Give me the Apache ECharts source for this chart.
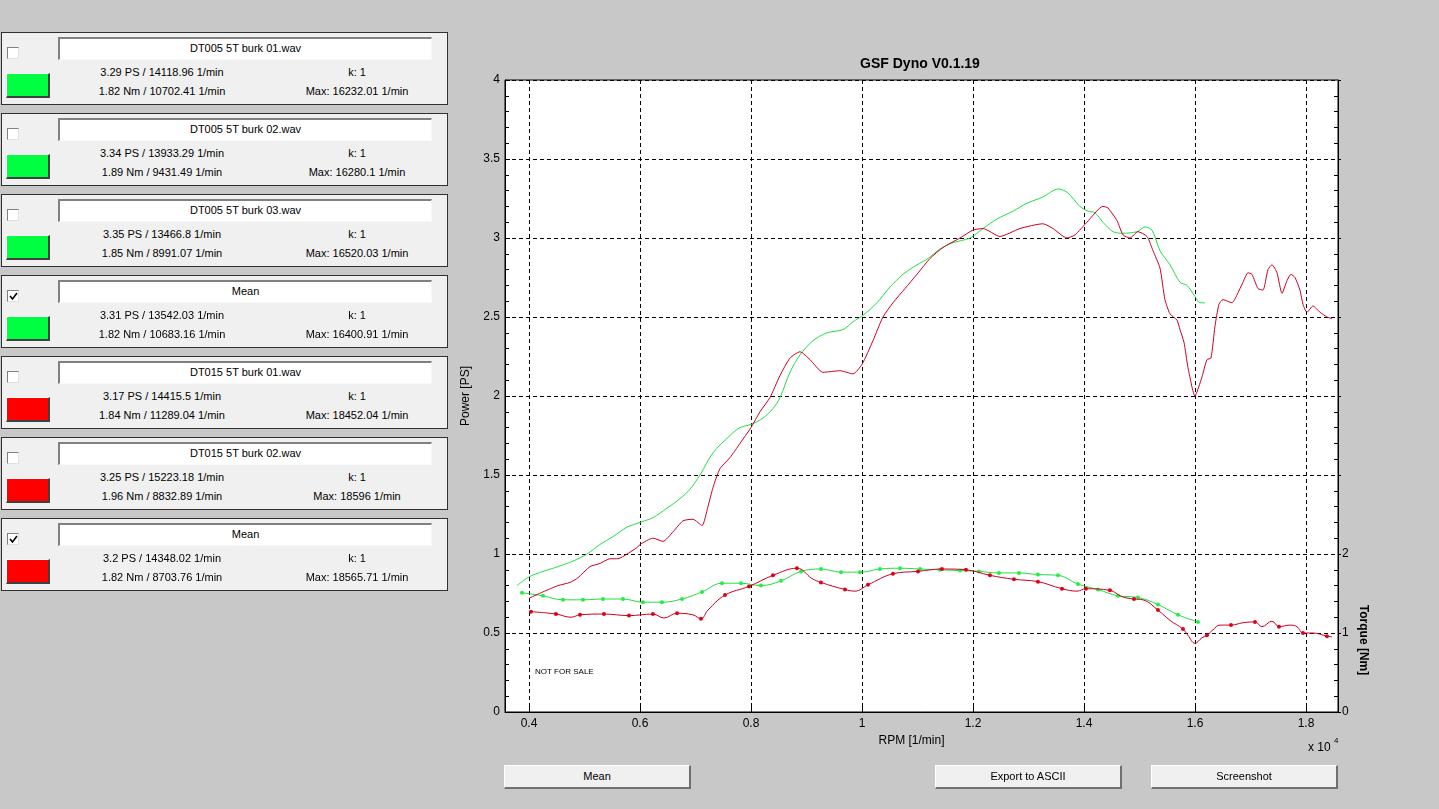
<!DOCTYPE html>
<html><head><meta charset="utf-8">
<script src="https://cdn.jsdelivr.net/npm/echarts@6/dist/echarts.min.js"></script>
<style>
html,body{margin:0;padding:0;background:#c8c8c8;width:1439px;height:809px;overflow:hidden;font-family:"Liberation Sans",Arial,sans-serif;}
*{box-sizing:border-box;}
#chart{position:absolute;left:0;top:0;width:1439px;height:809px;z-index:1;}
.panel{position:absolute;left:1px;width:447px;height:73px;background:#f0f0f0;border:1px solid #303030;z-index:2;}
.cb{position:absolute;left:5px;top:14px;width:12px;height:12px;background:#fff;border:1px solid #808080;border-right-color:#e0e0e0;border-bottom-color:#e0e0e0;}
.cb svg{position:absolute;left:1px;top:1px;}
.tb{position:absolute;left:56px;top:4px;width:374px;height:23px;background:#fff;border:1px solid #f8f8f8;border-top:2px solid #808080;border-left:2px solid #808080;font-size:11px;line-height:19px;text-align:center;color:#000;}
.sw{position:absolute;left:4px;top:40px;width:44px;height:25px;border:1px solid #fff;border-right:2px solid #404040;border-bottom:2px solid #404040;}
.tx{position:absolute;width:220px;font-size:11px;line-height:14px;text-align:center;color:#000;white-space:nowrap;}
.btn{position:absolute;top:765px;width:187px;height:24px;background:#f0f0f0;border:1px solid #fff;border-right:2px solid #707070;border-bottom:2px solid #707070;font-size:11px;line-height:21px;text-align:center;z-index:2;color:#000;}
</style></head>
<body>
<div id="chart"></div>
<div id="panels"></div>
<div class="btn" style="left:504px">Mean</div>
<div class="btn" style="left:935px">Export to ASCII</div>
<div class="btn" style="left:1151px">Screenshot</div>
<script>
// ---------- legend panel data ----------
const fileNames = ['DT005 5T burk 01.wav','DT005 5T burk 02.wav','DT005 5T burk 03.wav','Mean','DT015 5T burk 01.wav','DT015 5T burk 02.wav','Mean'];
const powerLines = ['3.29 PS / 14118.96 1/min','3.34 PS / 13933.29 1/min','3.35 PS / 13466.8 1/min','3.31 PS / 13542.03 1/min','3.17 PS / 14415.5 1/min','3.25 PS / 15223.18 1/min','3.2 PS / 14348.02 1/min'];
const torqueLines = ['1.82 Nm / 10702.41 1/min','1.89 Nm / 9431.49 1/min','1.85 Nm / 8991.07 1/min','1.82 Nm / 10683.16 1/min','1.84 Nm / 11289.04 1/min','1.96 Nm / 8832.89 1/min','1.82 Nm / 8703.76 1/min'];
const kLines = ['k: 1','k: 1','k: 1','k: 1','k: 1','k: 1','k: 1'];
const maxLines = ['Max: 16232.01 1/min','Max: 16280.1 1/min','Max: 16520.03 1/min','Max: 16400.91 1/min','Max: 18452.04 1/min','Max: 18596 1/min','Max: 18565.71 1/min'];
const checkedFlags = [false,false,false,true,false,false,true];
const swatchColors = ['#00ff40','#00ff40','#00ff40','#00ff40','#ff0000','#ff0000','#ff0000'];

// ---------- chart data ----------
const xTickLabels = ['0.4','0.6','0.8','1','1.2','1.4','1.6','1.8'];
const greenPowerRpm = [3784,4000,4252,4523,4793,5045,5279,5514,5766,6000,6234,6486,6721,6901,7081,7315,7622,7802,8000,8216,8396,8523,8703,8883,9117,9369,9658,9838,10018,10270,10505,10739,10991,11189,11405,11640,11946,12180,12432,12721,12973,13261,13532,13694,13928,14072,14198,14342,14523,14703,14955,15099,15225,15369,15550,15730,15856,16000,16090,16180];
const greenPowerPS = [0.80,0.855,0.89,0.92,0.955,1.00,1.06,1.11,1.17,1.20,1.23,1.29,1.35,1.41,1.50,1.64,1.75,1.80,1.82,1.86,1.92,1.99,2.15,2.26,2.35,2.40,2.42,2.47,2.51,2.59,2.69,2.77,2.83,2.87,2.93,2.97,3.00,3.06,3.12,3.17,3.22,3.26,3.31,3.29,3.20,3.17,3.16,3.10,3.04,3.03,3.04,3.07,3.05,2.92,2.83,2.72,2.70,2.63,2.59,2.59];

const redPowerRpm = [4000,4252,4523,4739,4883,5099,5279,5459,5604,5766,5946,6000,6234,6414,6595,6775,6955,7117,7225,7315,7441,7622,7802,8000,8162,8342,8523,8703,8883,9063,9297,9604,9838,10000,10198,10378,10559,10775,10991,11225,11459,11766,12000,12180,12486,12847,13261,13441,13694,13838,14054,14342,14432,14595,14703,14829,14973,15135,15243,15369,15459,15550,15676,15730,15802,15874,16000,16126,16216,16288,16360,16432,16505,16667,16757,16865,16955,17027,17135,17225,17315,17387,17477,17568,17658,17730,17802,17892,17946,18018,18126,18252,18378,18468];
const redPowerPS = [0.72,0.76,0.80,0.82,0.85,0.92,0.94,0.97,0.97,1.00,1.04,1.06,1.10,1.08,1.14,1.21,1.22,1.18,1.30,1.42,1.54,1.61,1.70,1.80,1.90,1.99,2.13,2.24,2.28,2.23,2.15,2.16,2.14,2.20,2.35,2.50,2.59,2.68,2.77,2.87,2.94,3.00,3.05,3.06,3.01,3.06,3.09,3.06,3.00,3.02,3.10,3.20,3.19,3.11,3.02,3.00,3.04,3.01,2.92,2.81,2.61,2.52,2.48,2.42,2.34,2.18,2.00,2.12,2.23,2.24,2.44,2.58,2.61,2.59,2.64,2.72,2.78,2.77,2.68,2.67,2.80,2.83,2.78,2.65,2.73,2.77,2.75,2.67,2.58,2.53,2.57,2.53,2.50,2.49];

const greenTorqueRpm = [3874,4252,4613,4973,5333,5694,6054,6396,6757,7117,7477,7820,8180,8541,8901,9261,9622,9964,10324,10685,11045,11405,11766,12108,12468,12829,13171,13532,13892,14252,14613,14973,15333,15694,16054];
const greenTorqueNm = [1.51,1.47,1.42,1.42,1.43,1.43,1.39,1.39,1.43,1.52,1.63,1.63,1.60,1.66,1.78,1.81,1.77,1.77,1.81,1.82,1.81,1.80,1.79,1.78,1.76,1.76,1.74,1.73,1.62,1.55,1.47,1.45,1.36,1.23,1.14];

const redTorqueRpm = [4036,4486,4757,4919,5351,5802,6234,6432,6667,6955,7099,7225,7532,7964,8396,8829,9099,9261,9694,9874,10108,10559,11009,11441,11874,12306,12739,13171,13604,13874,14036,14468,14685,14901,15063,15333,15550,15784,15874,16000,16126,16216,16324,16450,16649,16865,17081,17207,17387,17514,17712,17838,17946,18126,18378,18468];
const redTorqueNm = [1.27,1.24,1.20,1.23,1.24,1.22,1.24,1.19,1.25,1.23,1.18,1.29,1.48,1.59,1.73,1.82,1.69,1.64,1.55,1.53,1.61,1.75,1.78,1.81,1.80,1.73,1.68,1.65,1.56,1.53,1.56,1.54,1.46,1.43,1.42,1.29,1.16,1.05,0.97,0.87,0.94,0.97,1.04,1.10,1.10,1.13,1.14,1.08,1.15,1.08,1.10,1.08,1.00,1.00,0.96,0.95];
// indices of red torque points that are measured samples (drawn with a dot)
const redTorqueSampleIdx = [0,1,3,4,5,6,8,10,12,13,14,15,17,18,20,21,22,23,24,25,26,27,28,30,31,33,35,37,41,44,46,49,52,54];

// ---------- panels ----------
const panelsEl = document.getElementById('panels');
fileNames.forEach((name, i) => {
  const p = document.createElement('div');
  p.className = 'panel';
  p.style.top = (32 + 81 * i) + 'px';
  const check = checkedFlags[i] ? '<svg width="9" height="9"><polyline points="1,4 3.5,7 8,1" fill="none" stroke="#000" stroke-width="1.6"/></svg>' : '';
  p.innerHTML =
    '<div class="cb">' + check + '</div>' +
    '<div class="tb">' + name + '</div>' +
    '<div class="sw" style="background:' + swatchColors[i] + '"></div>' +
    '<div class="tx" style="left:50px;top:32px">' + powerLines[i] + '</div>' +
    '<div class="tx" style="left:50px;top:51px">' + torqueLines[i] + '</div>' +
    '<div class="tx" style="left:245px;top:32px">' + kLines[i] + '</div>' +
    '<div class="tx" style="left:245px;top:51px">' + maxLines[i] + '</div>';
  panelsEl.appendChild(p);
});

// ---------- chart ----------
const zip = (a, b) => a.map((v, i) => [v, b[i]]);
const sampleSet = new Set(redTorqueSampleIdx);
const redTorqueData = redTorqueRpm.map((v, i) => ({ value: [v, redTorqueNm[i]], symbol: sampleSet.has(i) ? 'circle' : 'none' }));

const FONT = '"Liberation Sans", Arial, sans-serif';
const chart = echarts.init(document.getElementById('chart'));
chart.setOption({
  animation: false,
  backgroundColor: 'transparent',
  textStyle: { fontFamily: FONT },
  grid: { left: 505, top: 80, width: 833, height: 632, show: true, backgroundColor: '#ffffff', borderColor: '#000', borderWidth: 1, containLabel: false },
  xAxis: {
    type: 'value', min: 3568, max: 18577, splitNumber: 7, minInterval: 2000, maxInterval: 2000,
    name: 'RPM [1/min]', nameLocation: 'middle', nameGap: 23,
    nameTextStyle: { color: '#000', fontSize: 12, fontFamily: FONT, padding: [0, 20, 0, 0] },
    axisLine: { show: true, onZero: false, lineStyle: { color: '#000', width: 1 } },
    axisTick: { show: true, inside: true, length: 5, lineStyle: { color: '#000' } },
    axisLabel: {
      color: '#000', fontSize: 12, margin: 6, fontFamily: FONT, showMinLabel: false, showMaxLabel: false,
      formatter: v => { const i = Math.round((v - 4000) / 2000); return (Math.abs(v - (4000 + i * 2000)) < 1 && i >= 0 && i < xTickLabels.length) ? xTickLabels[i] : ''; }
    },
    splitLine: { show: true, lineStyle: { color: '#000', type: [4, 3], width: 1 } }
  },
  yAxis: [{
    type: 'value', min: 0, max: 4, interval: 0.5, position: 'left',
    name: 'Power [PS]', nameLocation: 'middle', nameGap: 33,
    nameTextStyle: { color: '#000', fontSize: 12, fontFamily: FONT },
    axisLine: { show: true, lineStyle: { color: '#000', width: 1 } },
    axisTick: { show: true, inside: true, length: 5, lineStyle: { color: '#000' } },
    minorTick: { show: true, splitNumber: 5, length: 4, lineStyle: { color: '#000' } },
    axisLabel: { color: '#000', fontSize: 12, margin: 5, fontFamily: FONT },
    splitLine: { show: true, lineStyle: { color: '#000', type: [4, 3], width: 1 } }
  }, {
    type: 'value', min: 0, max: 8, interval: 1, position: 'right',
    axisLine: { show: true, lineStyle: { color: '#000', width: 1 } },
    axisTick: { show: true, inside: false, length: 3, lineStyle: { color: '#000' } },
    minorTick: { show: true, splitNumber: 5, length: -4, lineStyle: { color: '#000' } },
    axisLabel: { color: '#000', fontSize: 12, margin: 4, fontFamily: FONT, formatter: v => (v <= 2 ? String(v) : '') },
    splitLine: { show: false }
  }],
  graphic: [
    { type: 'text', style: { text: 'GSF Dyno V0.1.19', x: 920, y: 64, align: 'center', verticalAlign: 'middle', font: 'bold 14px ' + FONT, fill: '#000' } },
    { type: 'text', style: { text: 'NOT FOR SALE', x: 535, y: 672, verticalAlign: 'middle', font: '8px ' + FONT, fill: '#000' } },
    { type: 'text', x: 1363, y: 640, rotation: -Math.PI / 2, style: { text: 'Torque [Nm]', x: 0, y: 0, align: 'center', verticalAlign: 'middle', font: 'bold 12px ' + FONT, fill: '#000' } },
    { type: 'text', style: { text: 'x 10', x: 1308, y: 748, verticalAlign: 'middle', font: '12px ' + FONT, fill: '#000' } },
    { type: 'text', style: { text: '4', x: 1334, y: 741, verticalAlign: 'middle', font: '8px ' + FONT, fill: '#000' } }
  ],
  series: [
    { name: 'Mean DT005 power', type: 'line', yAxisIndex: 0, data: zip(greenPowerRpm, greenPowerPS), showSymbol: false, symbol: 'none', smooth: 0.3, lineStyle: { color: '#22dd44', width: 1 }, itemStyle: { color: '#22dd44' }, z: 3 },
    { name: 'Mean DT015 power', type: 'line', yAxisIndex: 0, data: zip(redPowerRpm, redPowerPS), showSymbol: false, symbol: 'none', smooth: 0.2, lineStyle: { color: '#cc0022', width: 1 }, itemStyle: { color: '#cc0022' }, z: 4 },
    { name: 'Mean DT005 torque', type: 'line', yAxisIndex: 1, data: zip(greenTorqueRpm, greenTorqueNm), symbol: 'circle', symbolSize: 4, showSymbol: true, smooth: 0.4, lineStyle: { color: '#22dd44', width: 1 }, itemStyle: { color: '#22ee44' }, z: 3 },
    { name: 'Mean DT015 torque', type: 'line', yAxisIndex: 1, data: redTorqueData, symbol: 'circle', symbolSize: 4, showSymbol: true, smooth: 0.4, lineStyle: { color: '#cc0022', width: 1 }, itemStyle: { color: '#e00018' }, z: 4 }
  ]
});
</script>
</body></html>
